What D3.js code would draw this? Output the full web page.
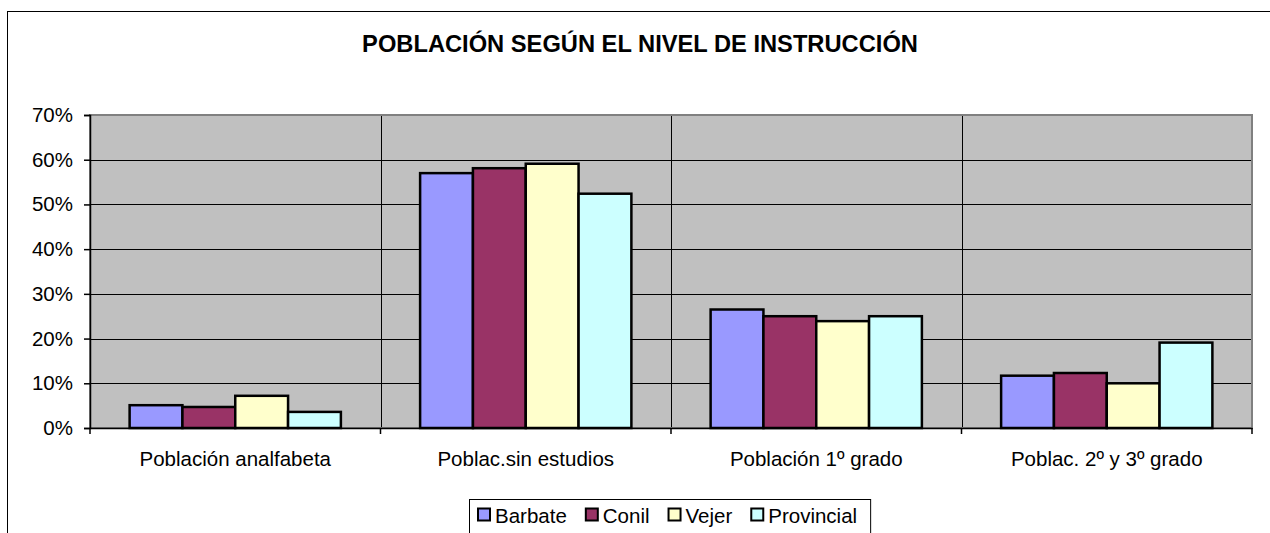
<!DOCTYPE html>
<html>
<head>
<meta charset="utf-8">
<script src="https://cdn.jsdelivr.net/npm/d3@7"></script>
<style>
  body { margin: 0; background: #fff; }
  svg text { font-family: Arial, "Liberation Sans", sans-serif; fill: #000; }
</style>
</head>
<body>
<svg width="1270" height="533"></svg>
<script>
// data
var categories = ["Población analfabeta", "Poblac.sin estudios", "Población 1º grado", "Poblac. 2º y 3º grado"];
var seriesNames = ["Barbate", "Conil", "Vejer", "Provincial"];
var barbate    = [0.051, 0.570, 0.265, 0.117];
var conil      = [0.047, 0.581, 0.250, 0.123];
var vejer      = [0.072, 0.591, 0.239, 0.100];
var provincial = [0.036, 0.524, 0.250, 0.191];
var yTicks = [0, 0.1, 0.2, 0.3, 0.4, 0.5, 0.6, 0.7];
var colors = ["#9999FF", "#993366", "#FFFFCC", "#CCFFFF"];

var values = [barbate, conil, vejer, provincial];

var svg = d3.select("svg");

// chart frame (runs off the right/bottom edge like the original)
svg.append("rect")
    .attr("x", 7.5).attr("y", 11.5)
    .attr("width", 1320).attr("height", 600)
    .attr("fill", "#fff")
    .attr("stroke", "#000")
    .attr("stroke-width", 1);

// title
svg.append("text")
    .attr("x", 640).attr("y", 52)
    .attr("text-anchor", "middle")
    .style("font-size", "23.7px")
    .style("font-weight", "bold")
    .text("POBLACIÓN SEGÚN EL NIVEL DE INSTRUCCIÓN");

var plotLeft = 90, plotRight = 1252, plotTop = 115, plotBottom = 428;

var x = d3.scaleBand()
    .domain(categories)
    .range([plotLeft, plotRight]);

var xInner = d3.scaleBand()
    .domain(seriesNames)
    .range([0, x.bandwidth()])
    .paddingInner(0)
    .paddingOuter(0.75);

var y = d3.scaleLinear()
    .domain([0, 0.7])
    .range([plotBottom, plotTop]);

// plot background
svg.append("rect")
    .attr("x", plotLeft).attr("y", plotTop)
    .attr("width", plotRight - plotLeft).attr("height", plotBottom - plotTop)
    .attr("fill", "#C0C0C0");

// horizontal gridlines
svg.append("g")
    .selectAll("line")
    .data(yTicks.slice(1))
    .enter()
    .append("line")
    .attr("x1", plotLeft).attr("x2", plotRight)
    .attr("y1", function (d) { return Math.round(y(d)) + 0.5; })
    .attr("y2", function (d) { return Math.round(y(d)) + 0.5; })
    .attr("stroke", "#000")
    .attr("stroke-width", 1);

// vertical category gridlines
svg.append("g")
    .selectAll("line")
    .data(categories.slice(1))
    .enter()
    .append("line")
    .attr("x1", function (d) { return Math.round(x(d)) + 0.5; })
    .attr("x2", function (d) { return Math.round(x(d)) + 0.5; })
    .attr("y1", plotTop).attr("y2", plotBottom)
    .attr("stroke", "#000")
    .attr("stroke-width", 1);

// plot border
svg.append("rect")
    .attr("x", plotLeft).attr("y", plotTop)
    .attr("width", plotRight - plotLeft).attr("height", plotBottom - plotTop)
    .attr("fill", "none")
    .attr("stroke", "#808080")
    .attr("stroke-width", 2);

// bars
var groups = svg.append("g")
    .selectAll("g")
    .data(seriesNames)
    .enter()
    .append("g")
    .attr("fill", function (d, i) { return colors[i]; });

groups.selectAll("rect")
    .data(function (s, i) {
        return categories.map(function (c, j) { return { cat: c, series: s, value: values[i][j] }; });
    })
    .enter()
    .append("rect")
    .attr("x", function (d) { return x(d.cat) + xInner(d.series); })
    .attr("y", function (d) { return y(d.value); })
    .attr("width", xInner.bandwidth())
    .attr("height", function (d) { return y(0) - y(d.value); })
    .attr("stroke", "#000")
    .attr("stroke-width", 2.5);

// y axis
var yAxis = d3.axisLeft(y)
    .tickValues(yTicks)
    .tickFormat(d3.format(".0%"))
    .tickSize(6)
    .tickPadding(11);

var gy = svg.append("g")
    .attr("transform", "translate(" + plotLeft + ",0)")
    .call(yAxis);
gy.select(".domain").attr("stroke", "#000").attr("stroke-width", 1.5);
gy.selectAll(".tick line").attr("stroke", "#000").attr("stroke-width", 1.5);
gy.selectAll("text").style("font-size", "20.5px").attr("fill", "#000");

// x axis: ticks at category boundaries
var xAxis = d3.axisBottom(x).tickSize(0).tickPadding(20);
var gx = svg.append("g")
    .attr("transform", "translate(0," + plotBottom + ")")
    .call(xAxis);
gx.select(".domain").attr("stroke", "#000").attr("stroke-width", 1.5);
gx.selectAll("text").style("font-size", "20.5px").attr("fill", "#000").attr("dy", "0.9em");

svg.append("g")
    .selectAll("line")
    .data(categories.concat(["end"]))
    .enter()
    .append("line")
    .attr("x1", function (d, i) { return i < categories.length ? x(d) : plotRight; })
    .attr("x2", function (d, i) { return i < categories.length ? x(d) : plotRight; })
    .attr("y1", plotBottom).attr("y2", plotBottom + 6)
    .attr("stroke", "#000")
    .attr("stroke-width", 1.5);

// legend
var legend = svg.append("g").attr("transform", "translate(469,499)");
var legendBox = legend.append("rect")
    .attr("x", 0.5).attr("y", 0.5)
    .attr("height", 60)
    .attr("fill", "#fff")
    .attr("stroke", "#000")
    .attr("stroke-width", 1);

var cursor = 9;
seriesNames.forEach(function (name, i) {
    legend.append("rect")
        .attr("x", cursor).attr("y", 9.5)
        .attr("width", 12).attr("height", 12)
        .attr("fill", colors[i])
        .attr("stroke", "#000")
        .attr("stroke-width", 2);
    var t = legend.append("text")
        .attr("x", cursor + 17).attr("y", 23.5)
        .style("font-size", "20.5px")
        .text(name);
    cursor += 17 + t.node().getComputedTextLength() + 19;
});
legendBox.attr("width", cursor - 19 + 13);
</script>
</body>
</html>
